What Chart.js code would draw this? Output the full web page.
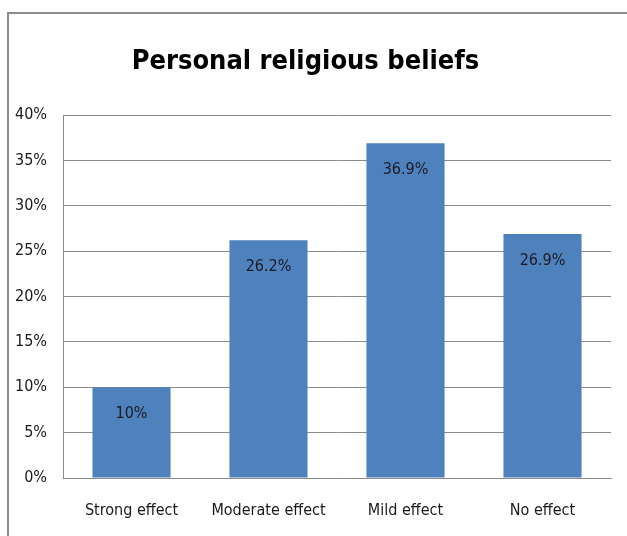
<!DOCTYPE html>
<html>
<head>
<meta charset="utf-8">
<script src="https://cdn.jsdelivr.net/npm/chart.js@4/dist/chart.umd.min.js"></script>
<style>
html,body{margin:0;padding:0;background:#fff;}
#wrap{position:relative;width:627px;height:536px;}
</style>
</head>
<body>
<div id="wrap"><canvas id="c" width="627" height="536"></canvas></div>
<script>
const categories = ["Strong effect", "Moderate effect", "Mild effect", "No effect"];
const values = [10, 26.2, 36.9, 26.9];
const valueLabels = ["10%", "26.2%", "36.9%", "26.9%"];
const yTicks = [0, 5, 10, 15, 20, 25, 30, 35, 40];
const titleText = "Personal religious beliefs";

const FONT = "'DejaVu Sans Condensed', 'Liberation Sans Narrow', sans-serif";

const framePlugin = {
  id: 'frame',
  beforeDraw(chart) {
    const ctx = chart.ctx;
    ctx.save();
    ctx.fillStyle = '#fff';
    ctx.fillRect(0, 0, chart.width, chart.height);
    ctx.strokeStyle = '#8c8c8c';
    ctx.lineWidth = 2;
    ctx.beginPath();
    ctx.moveTo(8, chart.height + 5);
    ctx.lineTo(8, 13);
    ctx.lineTo(chart.width + 5, 13);
    ctx.stroke();
    ctx.restore();
  }
};

const labelPlugin = {
  id: 'valueLabels',
  afterDatasetsDraw(chart) {
    const ctx = chart.ctx;
    const meta = chart.getDatasetMeta(0);
    ctx.save();
    ctx.font = "16px " + FONT;
    ctx.fillStyle = '#1b1b24';
    ctx.textAlign = 'center';
    ctx.textBaseline = 'middle';
    meta.data.forEach((bar, i) => {
      ctx.fillText(valueLabels[i], bar.x, bar.y + 27);
    });
    ctx.restore();
  }
};

new Chart(document.getElementById('c'), {
  type: 'bar',
  data: {
    labels: categories,
    datasets: [{
      data: values,
      backgroundColor: '#4f81bd',
      borderWidth: 0,
      categoryPercentage: 1.0,
      barPercentage: 0.57
    }]
  },
  options: {
    responsive: false,
    animation: false,
    devicePixelRatio: 1,
    layout: { padding: { left: 0, right: 16, top: 0, bottom: 0 } },
    plugins: {
      legend: { display: false },
      tooltip: { enabled: false },
      title: {
        display: true,
        text: titleText,
        color: '#000',
        font: { family: FONT, size: 27, weight: 'bold', lineHeight: 1.2 },
        padding: { top: 46, bottom: 36.6 }
      }
    },
    scales: {
      x: {
        grid: { display: false, drawTicks: false },
        border: { display: true, color: '#8c8c8c', width: 1 },
        ticks: { color: '#1a1a1a', font: { family: FONT, size: 16 }, padding: 23, maxRotation: 0 },
        afterFit(scale) { scale.height = 58; }
      },
      y: {
        min: 0, max: 40,
        afterBuildTicks(scale) { scale.ticks = yTicks.map(v => ({ value: v })); },
        grid: { color: '#8c8c8c', lineWidth: 1, drawTicks: false },
        border: { display: true, color: '#8c8c8c', width: 1 },
        ticks: {
          color: '#1a1a1a',
          font: { family: FONT, size: 16 },
          padding: 16,
          callback: v => v + '%'
        },
        afterFit(scale) { scale.width = 63; }
      }
    }
  },
  plugins: [framePlugin, labelPlugin]
});
</script>
</body>
</html>
